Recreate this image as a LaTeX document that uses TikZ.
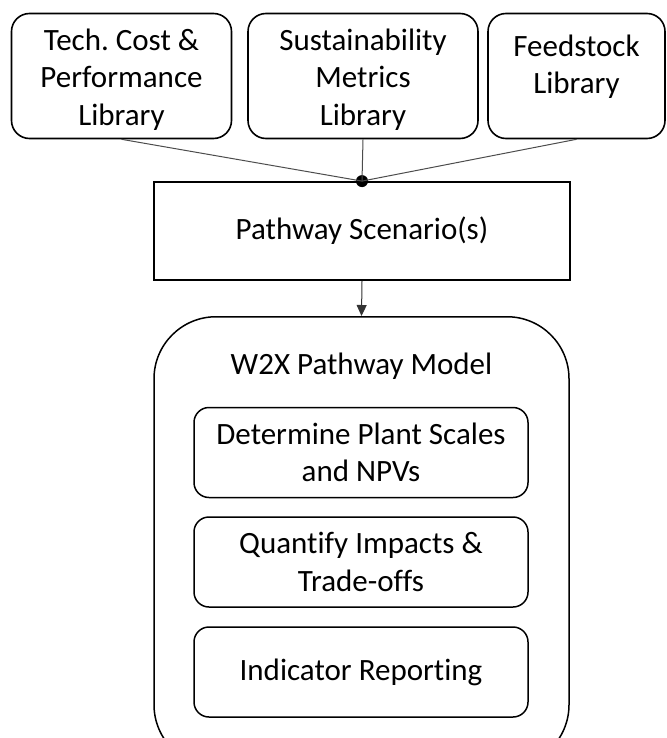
\documentclass[tikz,border=0pt]{standalone}
\usepackage{fontspec}
\setmainfont{Carlito}[Ligatures={NoCommon}]
\usetikzlibrary{arrows.meta}
\frenchspacing
\begin{document}
\begin{tikzpicture}[x=1pt,y=-1pt,
  txtfont/.style={font=\fontsize{31}{37.5}\selectfont},
  libbox/.style={draw=black, line width=1.6pt, rounded corners=18pt, align=center,
    inner sep=0pt, minimum height=125pt, txtfont},
  scenbox/.style={draw=black, line width=1.8pt, align=center, inner sep=0pt,
    minimum width=416pt, minimum height=98pt, txtfont},
  modelbox/.style={draw=black, line width=1.5pt, rounded corners=62pt, inner sep=0pt,
    minimum width=415pt, minimum height=450pt},
  stepbox/.style={draw=black, line width=1.5pt, rounded corners=15pt, align=center,
    inner sep=0pt, minimum width=334pt, minimum height=90pt, txtfont},
  feed/.style={draw=black!70, line width=1pt},
  dotnode/.style={circle, fill=black, inner sep=0pt, minimum size=12pt},
  arr/.style={draw=black!80, line width=1pt, -{Triangle[width=10pt,length=11pt]}}
]
\useasboundingbox (0,0) rectangle (666,738);
\clip (0,0) rectangle (666,738);

% top library boxes
\node[libbox, minimum width=220pt] (t1) at (121.5,76) {\rule{0pt}{28pt}Tech. Cost \&\\Performance\\Library};
\node[libbox, minimum width=230pt] (t2) at (363,76) {\rule{0pt}{28pt}Sustainability\\Metrics\\Library};
\node[libbox, minimum width=177pt] (t3) at (576.5,76) {Feedstock\\Library\rule[-24pt]{0pt}{24pt}};

% scenario box
\node[scenbox] (ps) at (362,231) {Pathway Scenario(s)};
\node[dotnode] (dot) at (ps.north) {};

\draw[feed] (t1.south) -- (dot.center);
\draw[feed] (t2.south) -- (dot.center);
\draw[feed] (t3.south) -- (dot.center);

% model box
\node[modelbox, anchor=north] (model) at (361.5,316) {};
\node[txtfont, anchor=center] (title) at (361.5,366) {W2X Pathway Model};

\draw[arr] (ps.south) -- (model.north);

% inner steps
\node[stepbox] (s1) at (361,452.5) {Determine Plant Scales\\and NPVs};
\node[stepbox] (s2) at (361,562) {Quantify Impacts \&\\Trade-offs};
\node[stepbox] (s3) at (361,672) {Indicator Reporting};
\end{tikzpicture}
\end{document}
